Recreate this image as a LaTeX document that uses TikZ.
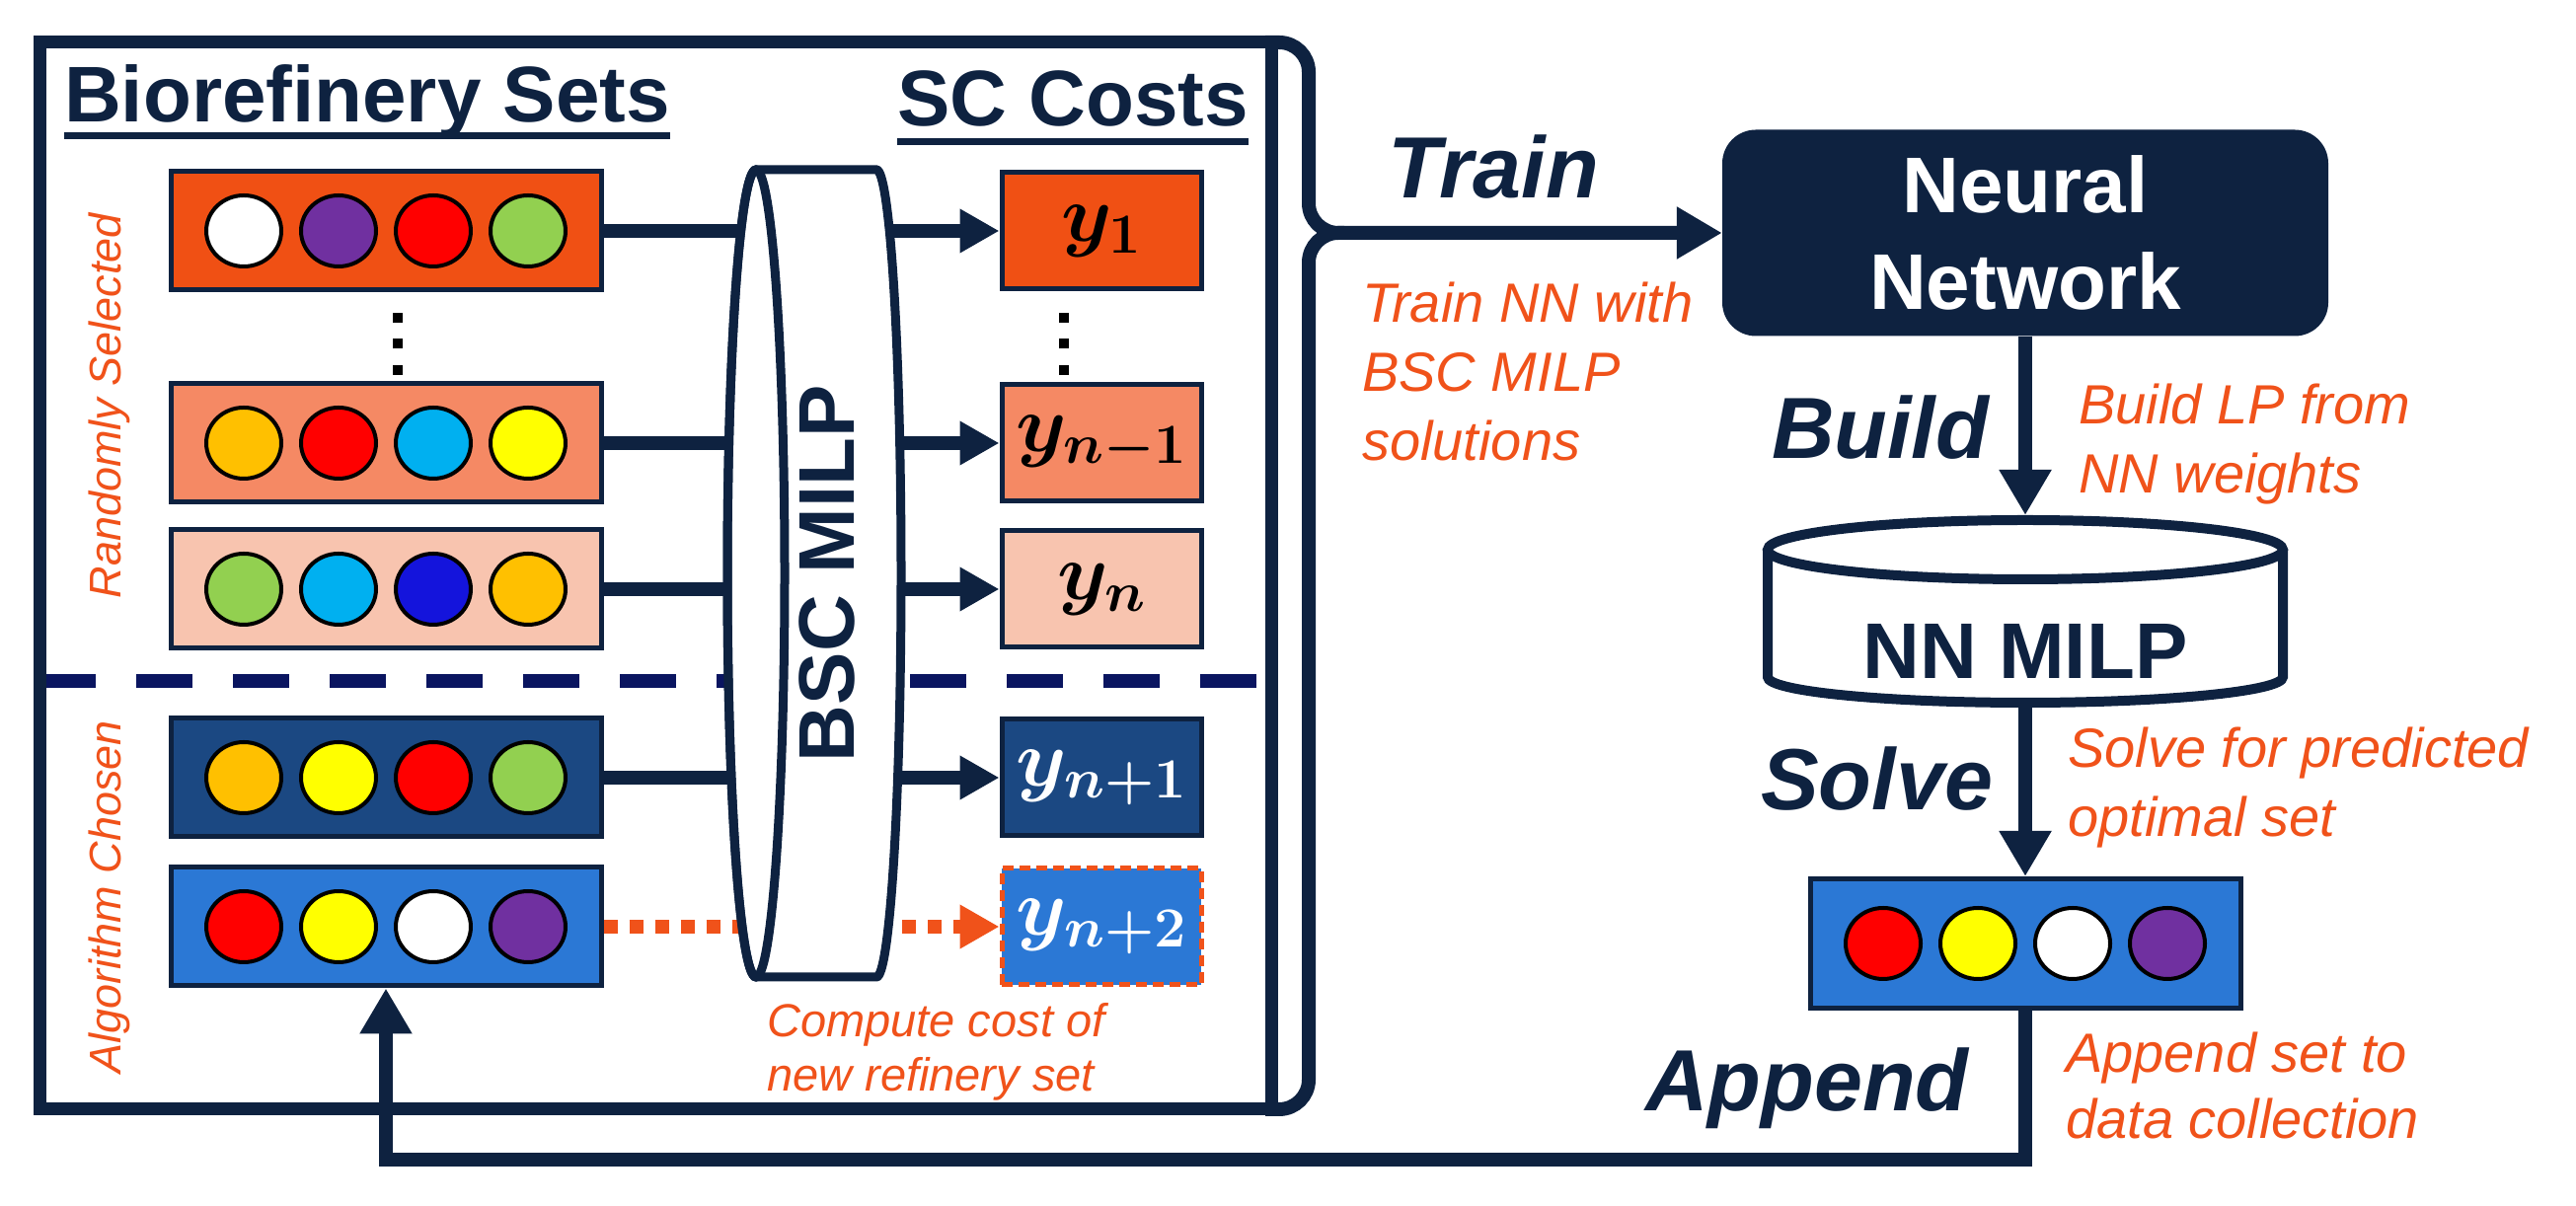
\RequirePackage{fix-cm}
\documentclass[tikz,border=0pt]{standalone}
\usepackage{amsmath,bm}
\usepackage[no-math]{fontspec}
\setmainfont{Liberation Sans}
\usetikzlibrary{arrows.meta,backgrounds}

\definecolor{navy}{RGB}{14,34,64}
\definecolor{divider}{RGB}{10,21,96}
\definecolor{accent}{RGB}{240,82,26}
\definecolor{setA}{RGB}{240,80,20}
\definecolor{setB}{RGB}{245,137,100}
\definecolor{setC}{RGB}{248,196,175}
\definecolor{setD}{RGB}{27,72,130}
\definecolor{setE}{RGB}{43,120,213}
\definecolor{cpurple}{RGB}{112,48,160}
\definecolor{cred}{RGB}{255,0,0}
\definecolor{cgreen}{RGB}{146,208,80}
\definecolor{cgold}{RGB}{255,192,0}
\definecolor{ccyan}{RGB}{0,176,240}
\definecolor{cyellow}{RGB}{255,255,0}
\definecolor{cblue}{RGB}{20,20,220}

% four refineries in one set box
\newcommand{\balls}[5]{%
  \foreach \col [count=\i] in {#2,#3,#4,#5}
    \draw[ball, fill=\col] ([xshift={(\i-2.5)*96}]#1.center) ellipse [x radius=38, y radius=36];
}

\begin{document}
\begin{tikzpicture}[x=1pt, y=1pt,
  setbox/.style={draw=navy, line width=5pt, minimum width=436pt, minimum height=120pt, inner sep=0pt},
  costbox/.style={draw=navy, line width=5pt, minimum width=202pt, minimum height=118pt, inner sep=0pt, font=\fontsize{82}{90}\selectfont},
  ball/.style={draw=black, line width=4pt},
  link/.style={draw=navy, line width=14pt},
  tip/.style={-{Triangle[length=40pt, width=42pt]}},
  bigtip/.style={-{Triangle[length=46pt, width=50pt]}},
  head/.style={text=navy, font=\fontsize{80}{90}\selectfont\bfseries, inner sep=0pt, anchor=base west},
  verb/.style={text=navy, font=\fontsize{88}{96}\selectfont\bfseries\itshape, inner sep=0pt, anchor=base west},
  note/.style={text=accent, font=\fontsize{56}{70}\selectfont\itshape, inner sep=0pt, align=left, anchor=north west},
  side/.style={text=accent, font=\fontsize{45}{50}\selectfont\itshape, inner sep=0pt, rotate=90, anchor=base},
]
\useasboundingbox (0,0) rectangle (2610,1222);

% frame round the data collection
\draw[navy, line width=13pt] (40,98) rectangle (1288,1179);

% headings
\node[head] (sets) at (65,1098) {Biorefinery Sets};
\draw[navy, line width=7pt] ([yshift=-14pt]sets.base west) -- ([yshift=-14pt]sets.base east);
\node[head] (costs) at (909,1094) {SC Costs};
\draw[navy, line width=7pt] ([yshift=-16pt]costs.base west) -- ([yshift=-16pt]costs.base east);

\node[side] (rand) at (122,811) {Randomly Selected};
\node[side] (algo) at (122,313) {Algorithm Chosen};

% biorefinery sets
\node[setbox, fill=setA] (lb1) at (391,988) {};
\node[setbox, fill=setB] (lb2) at (391,773) {};
\node[setbox, fill=setC] (lb3) at (391,625) {};
\node[setbox, fill=setD] (lb4) at (391,434) {};
\node[setbox, fill=setE] (lb5) at (391,283) {};
\balls{lb1}{white}{cpurple}{cred}{cgreen}
\balls{lb2}{cgold}{cred}{ccyan}{cyellow}
\balls{lb3}{cgreen}{ccyan}{cblue}{cgold}
\balls{lb4}{cgold}{cyellow}{cred}{cgreen}
\balls{lb5}{cred}{cyellow}{white}{cpurple}

% supply chain costs
\node[costbox, fill=setA] (yb1) at (1116,988) {$\bm{y_{1}}$};
\node[costbox, fill=setB] (yb2) at (1116,773) {$\bm{y_{n-1}}$};
\node[costbox, fill=setC] (yb3) at (1116,625) {$\bm{y_{n}}$};
\node[costbox, fill=setD, text=white] (yb4) at (1116,434) {$\bm{y_{n+1}}$};
\node[costbox, fill=setE, text=white, draw=accent, dash pattern=on 11pt off 6pt] (yb5) at (1116,283) {$\bm{y_{n+2}}$};

\foreach \yy in {900,874,847} {
  \fill (398,\yy-5) rectangle ++(10,10);
  \fill (1073,\yy-5) rectangle ++(10,10);
}

\coordinate (bscin) at (766,641);
\coordinate (bscout) at (888,641);

% connectors behind the cylinder
\begin{scope}[on background layer]
  \draw[divider, line width=14pt, dash pattern=on 57pt off 41pt] (40,532) -- (1273,532);
  \foreach \r in {1,2,3,4} {
    \draw[link] (lb\r.east) -- (bscin |- lb\r.east);
    \draw[link, tip] (bscout |- yb\r.west) -- (yb\r.west);
  }
  \draw[accent, line width=14pt, dash pattern=on 14pt off 12pt] (lb5.east) -- (bscin |- lb5.east);
  \draw[accent, line width=14pt, dash pattern=on 14pt off 12pt, tip] (bscout |- yb5.west) -- (yb5.west);
\end{scope}

% BSC MILP cylinder
\draw[navy, line width=9pt, fill=white] (766,1050) -- (888,1050)
  arc[start angle=90, end angle=-90, x radius=25, y radius=409] -- (766,232)
  arc[start angle=270, end angle=90, x radius=29, y radius=409] -- cycle;
\draw[navy, line width=9pt] (bscin) ellipse [x radius=29, y radius=409];
\node[rotate=90, text=navy, font=\fontsize{80}{90}\selectfont\bfseries, inner sep=0pt] (bsc) at (838,641) {BSC MILP};

\node[note, font=\fontsize{47}{55}\selectfont\itshape] (cnote) at (777,206) {Compute cost of\\new refinery set};

% neural network
\node[fill=navy, rounded corners=34pt, minimum width=614pt, minimum height=209pt, text=white, align=center, font=\fontsize{80}{98}\selectfont\bfseries] (nn) at (2052,986) {Neural\\Network};

% brace and train arrow
\draw[navy, line width=14pt, rounded corners=30pt] (1282,98) -- (1326,98) -- (1326,986) -- (1362,986);
\draw[navy, line width=14pt, rounded corners=30pt, bigtip] (1282,1179) -- (1326,1179) -- (1326,986) -- (nn.west);
\node[verb] (train) at (1406,1021) {Train};
\node[note] (tnote) at (1380,936) {Train NN with\\BSC MILP\\solutions};

% NN MILP cylinder
\draw[navy, line width=10pt, fill=white] (1791,665) -- (1791,536)
  arc[start angle=180, end angle=360, x radius=261, y radius=26] -- (2313,665);
\draw[navy, line width=10pt] (2052,665) ellipse [x radius=261, y radius=30];
\node[text=navy, font=\fontsize{80}{90}\selectfont\bfseries, inner sep=0pt] (milp) at (2052,562) {NN MILP};
\coordinate (milptop) at (2052,700);
\coordinate (milpbot) at (2052,510);

% predicted set
\node[setbox, fill=setE, minimum height=131pt] (best) at (2052,266) {};
\balls{best}{cred}{cyellow}{white}{cpurple}

\draw[link, bigtip] (nn.south) -- (milptop);
\draw[link, bigtip] (milpbot) -- (best.north);
\draw[link, bigtip] (best.south) -- ++(0,-151) -| (lb5.south);

\node[verb] (build) at (1795,757) {Build};
\node[note] (bnote) at (2106,833) {Build LP from\\NN weights};
\node[verb] (solve) at (1784,401) {Solve};
\node[note] (snote) at (2095,485) {Solve for predicted\\optimal set};
\node[verb] (append) at (1667,96) {Append};
\node[note, font=\fontsize{56}{67}\selectfont\itshape] (anote) at (2093,176) {Append set to\\data collection};
\end{tikzpicture}
\end{document}
